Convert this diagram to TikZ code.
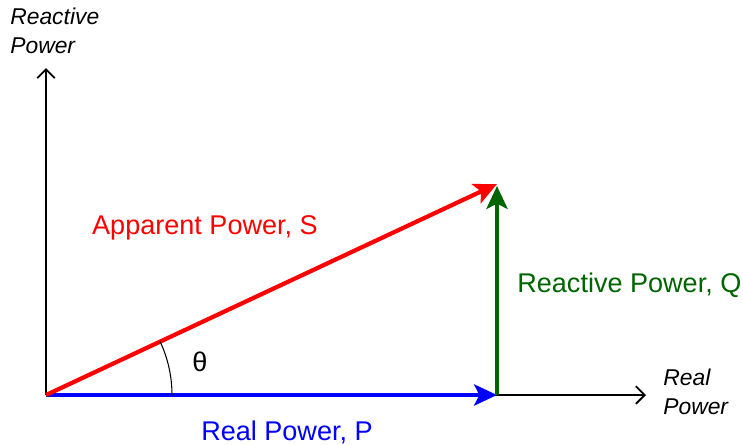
\documentclass[tikz,border=0pt]{standalone}
\usepackage{fontspec}
\setmainfont{Liberation Sans}
\usetikzlibrary{arrows.meta,positioning,calc}
\definecolor{powReal}{RGB}{0,0,255}
\definecolor{powApp}{RGB}{255,0,0}
\definecolor{powReac}{RGB}{0,100,0}
\tikzset{triangle/.style={
  x=0.02cm, y=-0.02cm,
  axis/.style={-{Straight Barb[length=5pt,width=10pt,line width=1.1pt]}, line width=1.1pt, black},
  phasor/.style={-{Stealth[length=13pt,width=12pt,inset=3pt]}, line width=2.4pt},
  axlab/.style={font=\fontsize{13}{16}\selectfont\itshape, align=left, inner sep=0pt},
  vlab/.style={font=\fontsize{15.4}{18}\selectfont, inner sep=0pt},
}}

\begin{document}
\begin{tikzpicture}[triangle]

\useasboundingbox (0,0) rectangle (743,444);

% ---- points ----
\coordinate (O)  at (46,395);
\coordinate (P)  at (497,395);
\coordinate (S)  at (497,184);
\coordinate (yend) at (46,68);
\coordinate (xend) at (646,395);

% ---- axes ----
\draw[axis] (O) -- (yend);
\draw[axis] (O) -- (xend);
\node[axlab, anchor=north west] (ylab) at (10,8) {Reactive\\[0pt]Power};
\node[axlab, anchor=north west] (xlab) at (663,369) {Real\\[0pt]Power};

% ---- power triangle ----
\draw[phasor, powReal] (O) -- (P);
\draw[phasor, powReac] (P) -- ($(S)+(0,2)$);
\draw[phasor, powApp]  (O) -- (S);

% ---- angle (y runs downwards, so the angle is negative) ----
\draw[line width=0.6pt] ($(O)+(126,0)$) arc[start angle=0, end angle=-25.1, radius=126];
\node[vlab] (theta) at (200,362) {θ};

% ---- labels ----
\node[vlab, text=powApp]  (Slab) at (205,228) {Apparent Power, S};
\node[vlab, text=powReac, anchor=west] (Qlab) at (517,285) {Reactive Power, Q};
\node[vlab, text=powReal] (Plab) at (287,432) {Real Power, P};

\end{tikzpicture}
\end{document}
